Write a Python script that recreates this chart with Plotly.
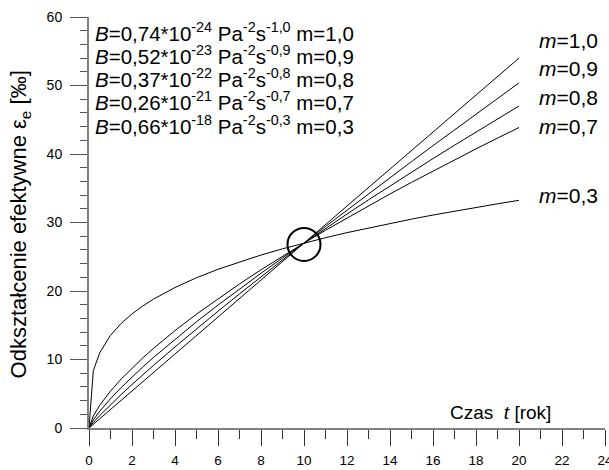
import plotly.graph_objects as go

# Time [years]
t = [0, 0.2, 0.5, 1, 1.5, 2, 2.5, 3, 4, 5, 6, 7, 8, 9, 10,
     11, 12, 13, 14, 15, 16, 17, 18, 19, 20]

# Effective strain [permille] for each exponent m
eps_m10 = [0, 0.54, 1.35, 2.70, 4.05, 5.40, 6.75, 8.10, 10.80, 13.50, 16.20, 18.90, 21.60, 24.30, 27.00,
           29.70, 32.40, 35.10, 37.80, 40.50, 43.20, 45.90, 48.60, 51.30, 54.00]
eps_m09 = [0, 0.80, 1.82, 3.40, 4.90, 6.35, 7.76, 9.14, 11.84, 14.47, 17.05, 19.58, 22.09, 24.56, 27.00,
           29.42, 31.81, 34.19, 36.55, 38.89, 41.22, 43.53, 45.82, 48.11, 50.38]
eps_m08 = [0, 1.18, 2.46, 4.28, 5.92, 7.45, 8.91, 10.31, 12.97, 15.51, 17.94, 20.30, 22.59, 24.82, 27.00,
           29.14, 31.24, 33.31, 35.34, 37.35, 39.33, 41.28, 43.21, 45.12, 47.01]
eps_m07 = [0, 1.75, 3.32, 5.39, 7.16, 8.75, 10.23, 11.62, 14.22, 16.62, 18.88, 21.03, 23.10, 25.08, 27.00,
           28.86, 30.67, 32.44, 34.17, 35.86, 37.52, 39.14, 40.75, 42.32, 43.86]
eps_m03 = [0, 8.35, 10.99, 13.53, 15.28, 16.66, 17.81, 18.81, 20.51, 21.93, 23.17, 24.26, 25.25, 26.16, 27.00,
           27.78, 28.52, 29.21, 29.87, 30.49, 31.09, 31.66, 32.21, 32.73, 33.24]

series = [eps_m10, eps_m09, eps_m08, eps_m07, eps_m03]
m_labels = ["1,0", "0,9", "0,8", "0,7", "0,3"]
label_y = [56.6, 52.5, 48.3, 44.0, 34.0]

param_lines = [
    ("0,74", "-24", "-1,0", "1,0"),
    ("0,52", "-23", "-0,9", "0,9"),
    ("0,37", "-22", "-0,8", "0,8"),
    ("0,26", "-21", "-0,7", "0,7"),
    ("0,66", "-18", "-0,3", "0,3"),
]

# Common crossing point, marked with a circle
cross_t, cross_eps = 10, 26.8

FONT = "Arial, Liberation Sans, sans-serif"

fig = go.Figure()
for ys in series:
    fig.add_trace(go.Scatter(x=t, y=ys, mode="lines",
                             line=dict(color="black", width=1),
                             showlegend=False, hoverinfo="skip"))

annotations = []
for i, (b, e, s, m) in enumerate(param_lines):
    annotations.append(dict(
        xref="paper", yref="paper", x=0.008, y=0.964 - i * 0.0565,
        xanchor="left", yanchor="middle", showarrow=False,
        text=f"<i>B</i>={b}*10<sup>{e}</sup> Pa<sup>-2</sup>s<sup>{s}</sup> m={m}",
        font=dict(family=FONT, size=20.5, color="black"),
    ))
for lab, yv in zip(m_labels, label_y):
    annotations.append(dict(
        xref="x", yref="y", x=20.85, y=yv, xanchor="left", yanchor="middle",
        showarrow=False, text=f"<i>m</i>={lab}",
        font=dict(family=FONT, size=21, color="black"),
    ))
annotations.append(dict(
    xref="x", yref="y", x=21.6, y=2.3, xanchor="right", yanchor="middle",
    showarrow=False, text="Czas  <i>t</i> [rok]",
    font=dict(family=FONT, size=19, color="black"),
))
annotations.append(dict(
    xref="paper", yref="paper", x=-0.134, y=0.495, xanchor="center", yanchor="middle",
    showarrow=False, textangle=-90,
    text="Odkształcenie efektywne ε<sub>e</sub> [‰]",
    font=dict(family=FONT, size=22, color="black"),
))

fig.add_shape(type="circle", xref="x", yref="y",
              xsizemode="pixel", ysizemode="pixel",
              xanchor=cross_t, yanchor=cross_eps,
              x0=-16.5, x1=16.5, y0=-16.5, y1=16.5,
              line=dict(color="black", width=2))

fig.update_layout(
    width=609, height=470,
    margin=dict(l=89, r=4, t=17, b=42, autoexpand=False),
    paper_bgcolor="white", plot_bgcolor="white",
    annotations=annotations,
    font=dict(family=FONT, size=14, color="black"),
)
fig.update_xaxes(
    range=[0, 24], tick0=0, dtick=2, ticks="outside", ticklen=16, tickwidth=1,
    tickcolor="#333333", showline=True, linecolor="#808080", linewidth=2,
    showgrid=False, zeroline=False, tickfont=dict(family=FONT, size=13.5),
    ticklabelstandoff=3, ticklabeloverflow="allow", automargin=False,
    minor=dict(dtick=1, ticks="outside", ticklen=9, tickcolor="#333333", showgrid=False),
)
fig.update_yaxes(
    range=[0, 60], tick0=0, dtick=10, ticks="outside", ticklen=17, tickwidth=1,
    tickcolor="#555555", showline=True, linecolor="#808080", linewidth=2,
    showgrid=False, zeroline=False, tickfont=dict(family=FONT, size=14),
    ticklabelstandoff=5, automargin=False,
    minor=dict(dtick=2, ticks="outside", ticklen=7, tickcolor="#555555", showgrid=False),
)

fig.write_html("out.html")
